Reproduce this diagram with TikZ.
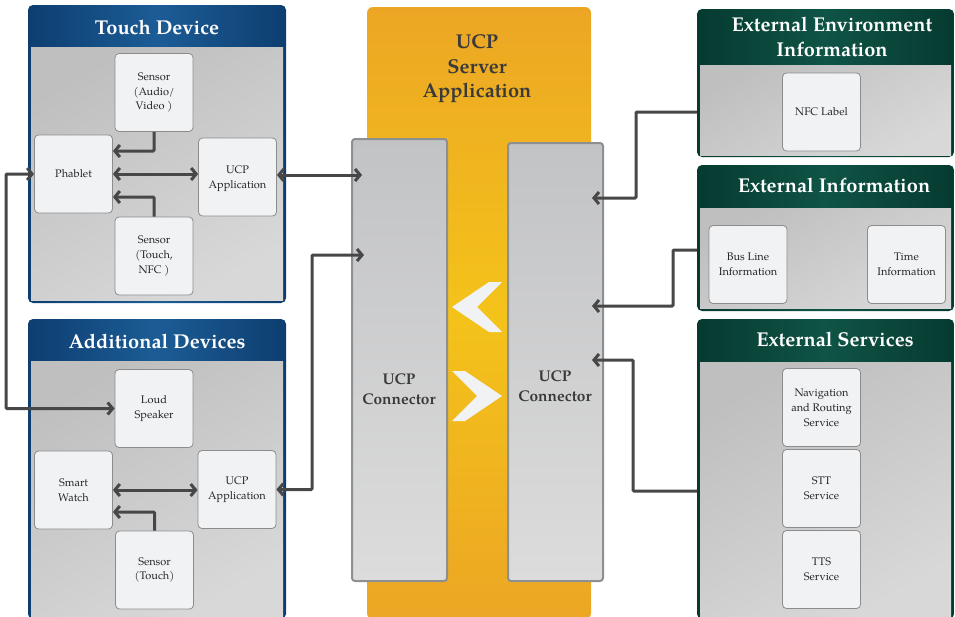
\documentclass[tikz,border=0pt]{standalone}
\usepackage{fontspec}
\setmainfont{TeX Gyre Pagella}
\usetikzlibrary{arrows.meta,calc}
\definecolor{blueA}{HTML}{0D3E70}
\definecolor{blueB}{HTML}{1C5C96}
\definecolor{greenA}{HTML}{063A30}
\definecolor{greenB}{HTML}{0F5446}
\definecolor{grayA}{HTML}{BFBFBF}
\definecolor{grayB}{HTML}{D8D8D8}
\definecolor{boxfill}{HTML}{F1F2F4}
\definecolor{boxline}{HTML}{8C8C8C}
\definecolor{lineC}{HTML}{474747}
\definecolor{orA}{HTML}{ECA624}
\definecolor{orB}{HTML}{F4C31A}
\definecolor{connA}{HTML}{C2C3C5}
\definecolor{connB}{HTML}{DCDCDC}
\definecolor{connLine}{HTML}{8E8F91}
\definecolor{txtdark}{HTML}{3A3A3A}
\begin{document}
\begin{tikzpicture}[x=1pt,y=-1pt,
  panel/.style={anchor=north west, inner sep=0pt, outer sep=0pt, rounded corners=5pt},
  bluepanel/.style={panel, left color=blueA, right color=blueA, middle color=blueB},
  greenpanel/.style={panel, left color=greenA, right color=greenA, middle color=greenB},
  innerarea/.style={anchor=north west, inner sep=0pt, outer sep=0pt, top color=grayA, bottom color=grayB, shading angle=30},
  box/.style={draw=boxline, line width=0.8pt, fill=boxfill, rounded corners=4pt, minimum width=78pt, minimum height=78pt, align=center, inner sep=1pt, font=\fontsize{11}{14.8}\selectfont, text=black!85},
  hdr/.style={text=white, font=\fontsize{20}{25}\selectfont\bfseries, align=center},
  conn/.style={anchor=north west, inner sep=0pt, outer sep=0pt, draw=connLine, line width=2pt, rounded corners=3pt, top color=connA, bottom color=connB},
  conntext/.style={text=txtdark, font=\fontsize{15.5}{19.5}\selectfont\bfseries, align=center},
  arr/.style={draw=lineC, line width=3pt, rounded corners=1pt},
  >={Straight Barb[length=5pt,width=12pt]}]
\useasboundingbox (0,0) rectangle (955,616);

% ---------- central server ----------
\node[panel, minimum width=224pt, minimum height=612pt, rounded corners=6pt,
      top color=orA, bottom color=orA, middle color=orB] (srv) at (367,7) {};
\node[text=txtdark, font=\fontsize{20}{24.5}\selectfont\bfseries, align=center] (srvt) at (477,69) {UCP\\Server\\Application};
\node[conn, minimum width=95pt, minimum height=442pt] (lconn) at (352,139) {};
\node[conn, minimum width=95pt, minimum height=438pt] (rconn) at (508,143) {};
\node[conntext] (lct) at (399,389) {UCP\\Connector};
\node[conntext] (rct) at (555,386) {UCP\\Connector};
\fill[boxfill] (452,307) -- (489,282) -- (502,282) -- (477,307) -- (502,332) -- (489,332) -- cycle;
\fill[boxfill] (502,396) -- (465,371) -- (452,371) -- (477,396) -- (452,421) -- (465,421) -- cycle;

% ---------- Touch Device ----------
\node[bluepanel, minimum width=258pt, minimum height=298pt] (td) at (28,5) {};
\node[innerarea, minimum width=252pt, minimum height=253pt] (tdin) at (31,47) {};
\node[hdr] (tdh) at (157,27) {Touch Device};
\node[box] (sav) at (154,92.5) {Sensor\\(Audio/\\Video )};
\node[box] (phab) at (73.5,174) {Phablet};
\node[box, text depth=-8pt] (tapp) at (237.5,177) {UCP\\Application};
\node[box] (stn) at (154,256) {Sensor\\(Touch,\\NFC )};

% ---------- Additional Devices ----------
\node[bluepanel, minimum width=258pt, minimum height=300pt] (ad) at (28,319) {};
\node[innerarea, minimum width=252pt, minimum height=255pt] (adin) at (31,361) {};
\node[hdr] (adh) at (157,341) {Additional Devices};
\node[box] (ls) at (154,408.5) {Loud\\Speaker};
\node[box] (sw) at (73.5,490) {Smart\\Watch};
\node[box] (aapp) at (237,489.5) {UCP\\Application};
\node[box] (st) at (154.5,570) {Sensor\\(Touch)};

% ---------- External Environment Information ----------
\node[greenpanel, minimum width=257pt, minimum height=148pt] (eei) at (697,9) {};
\node[innerarea, minimum width=251pt, minimum height=90pt] (eein) at (700,65) {};
\node[hdr] (eeih) at (832,37) {External Environment\\Information};
\node[box] (nfc) at (821.5,112) {NFC Label};

% ---------- External Information ----------
\node[greenpanel, minimum width=257pt, minimum height=146pt] (ei) at (697,165) {};
\node[innerarea, minimum width=251pt, minimum height=100pt] (eiin) at (700,208) {};
\node[hdr] (eih) at (834,185) {External Information};
\node[box] (bus) at (748,264.5) {Bus Line\\Information};
\node[box] (time) at (906.5,264.5) {Time\\Information};

% ---------- External Services ----------
\node[greenpanel, minimum width=257pt, minimum height=300pt] (es) at (697,319) {};
\node[innerarea, minimum width=251pt, minimum height=255pt] (esin) at (700,362) {};
\node[hdr] (esh) at (835,339) {External Services};
\node[box] (nav) at (821.5,407.5) {Navigation\\and Routing\\Service};
\node[box] (stt) at (821.5,488.5) {STT\\Service};
\node[box] (tts) at (821.5,569.5) {TTS\\Service};

% ---------- helper coordinates ----------
\coordinate (lbend) at (6,300);
\coordinate (abend) at (312,370);
\coordinate (eb) at (636,150);
\coordinate (ib) at (673,280);
\coordinate (sb) at (633,420);
\path (lconn.west |- 0,175) ++(10,0) coordinate (li1);
\path (lconn.west |- 0,255) ++(12,0) coordinate (li2);
\path (rconn.east |- 0,198) ++(-11,0) coordinate (ri1);
\path (rconn.east |- 0,306) ++(-11,0) coordinate (ri2);
\path (rconn.east |- 0,360) ++(-11,0) coordinate (ri3);

% ---------- connectors ----------
\draw[arr,->] (sav.south) |- ($(phab.east)+(0,-23)$);
\draw[arr,<->] (phab.east) -- (tapp.west |- phab.east);
\draw[arr,->] (stn.north) |- ($(phab.east)+(0,23)$);
\draw[arr,<->] (phab.west) -| (lbend) |- (ls.west);
\draw[arr,<->] (tapp.east |- li1) -- (li1);
\draw[arr,<->] (sw.east) -- (aapp.west |- sw.east);
\draw[arr,->] (st.north) |- ($(sw.east)+(0,22)$);
\draw[arr,<->] (aapp.east) -| (abend) |- (li2);
\draw[arr,->] (eei.west |- 0,112) -| (eb) |- (ri1);
\draw[arr,->] (ei.west |- 0,250) -| (ib) |- (ri2);
\draw[arr,->] (es.west |- 0,491) -| (sb) |- (ri3);
\end{tikzpicture}
\end{document}
